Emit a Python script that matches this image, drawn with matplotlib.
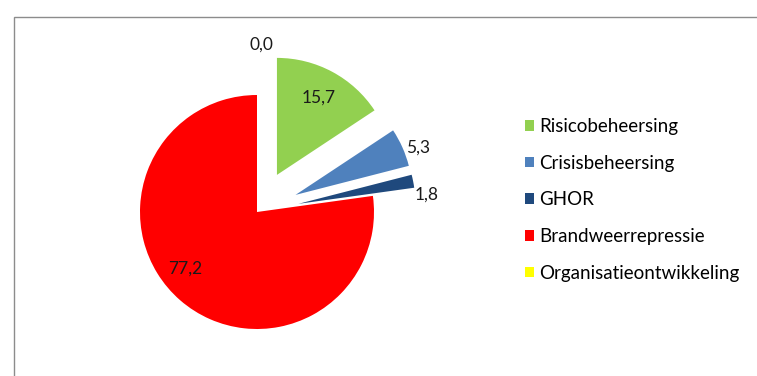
import numpy as np
import matplotlib
matplotlib.use("Agg")
import matplotlib.pyplot as plt
from matplotlib.patches import Rectangle

categories = ["Risicobeheersing", "Crisisbeheersing", "GHOR",
              "Brandweerrepressie", "Organisatieontwikkeling"]
values = [15.7, 5.3, 1.8, 77.2, 0.0]
colors = ["#92D050", "#4F81BD", "#1F497D", "#FF0000", "#FFFF00"]
explode = [0.36, 0.36, 0.36, 0.0, 0.36]
# label placement: distance from wedge centre (in radii) and angle tweak (deg)
lab_dist = [0.75, 1.12, 1.10, 0.78, 1.07]
lab_shift = [0, -3, -7, -11, -2]

plt.rcParams["font.family"] = ["Lato", "DejaVu Sans"]

W, H = 757, 376
fig = plt.figure(figsize=(W / 100, H / 100), dpi=100)

# thin grey chart frame (runs off right and bottom edges)
fig.patches.append(Rectangle((14 / W, -0.05), 1.1, 1 - 17 / H + 0.05,
                             transform=fig.transFigure, fill=False,
                             edgecolor="#8c8c8c", linewidth=1.0))

R = 117
cx, cy = 257, H - 212
half = 180
ax = fig.add_axes([(cx - half) / W, (cy - half) / H, 2 * half / W, 2 * half / H])

wedges, _ = ax.pie(values, colors=colors, explode=explode, startangle=90,
                   counterclock=False, radius=1.0,
                   wedgeprops=dict(linewidth=0))
ax.set_xlim(-half / R, half / R)
ax.set_ylim(-half / R, half / R)
ax.set_axis_off()
for w in wedges:
    w.set_clip_on(False)

for w, v, d, s in zip(wedges, values, lab_dist, lab_shift):
    mid = np.deg2rad((w.theta1 + w.theta2) / 2 + s)
    x0, y0 = w.center
    ax.text(x0 + d * np.cos(mid), y0 + d * np.sin(mid),
            f"{v:.1f}".replace(".", ","), ha="center", va="center",
            fontsize=12.5, color="#1a1a1a", clip_on=False)

fig.legend(wedges, categories, loc="upper left",
           bbox_to_anchor=(525 / W, 1 - 118 / H), frameon=False,
           fontsize=13.5, handlelength=0.5, handleheight=0.5,
           handletextpad=0.25, labelspacing=1.05, borderpad=0,
           borderaxespad=0)

fig.savefig("out.png", dpi=100)
